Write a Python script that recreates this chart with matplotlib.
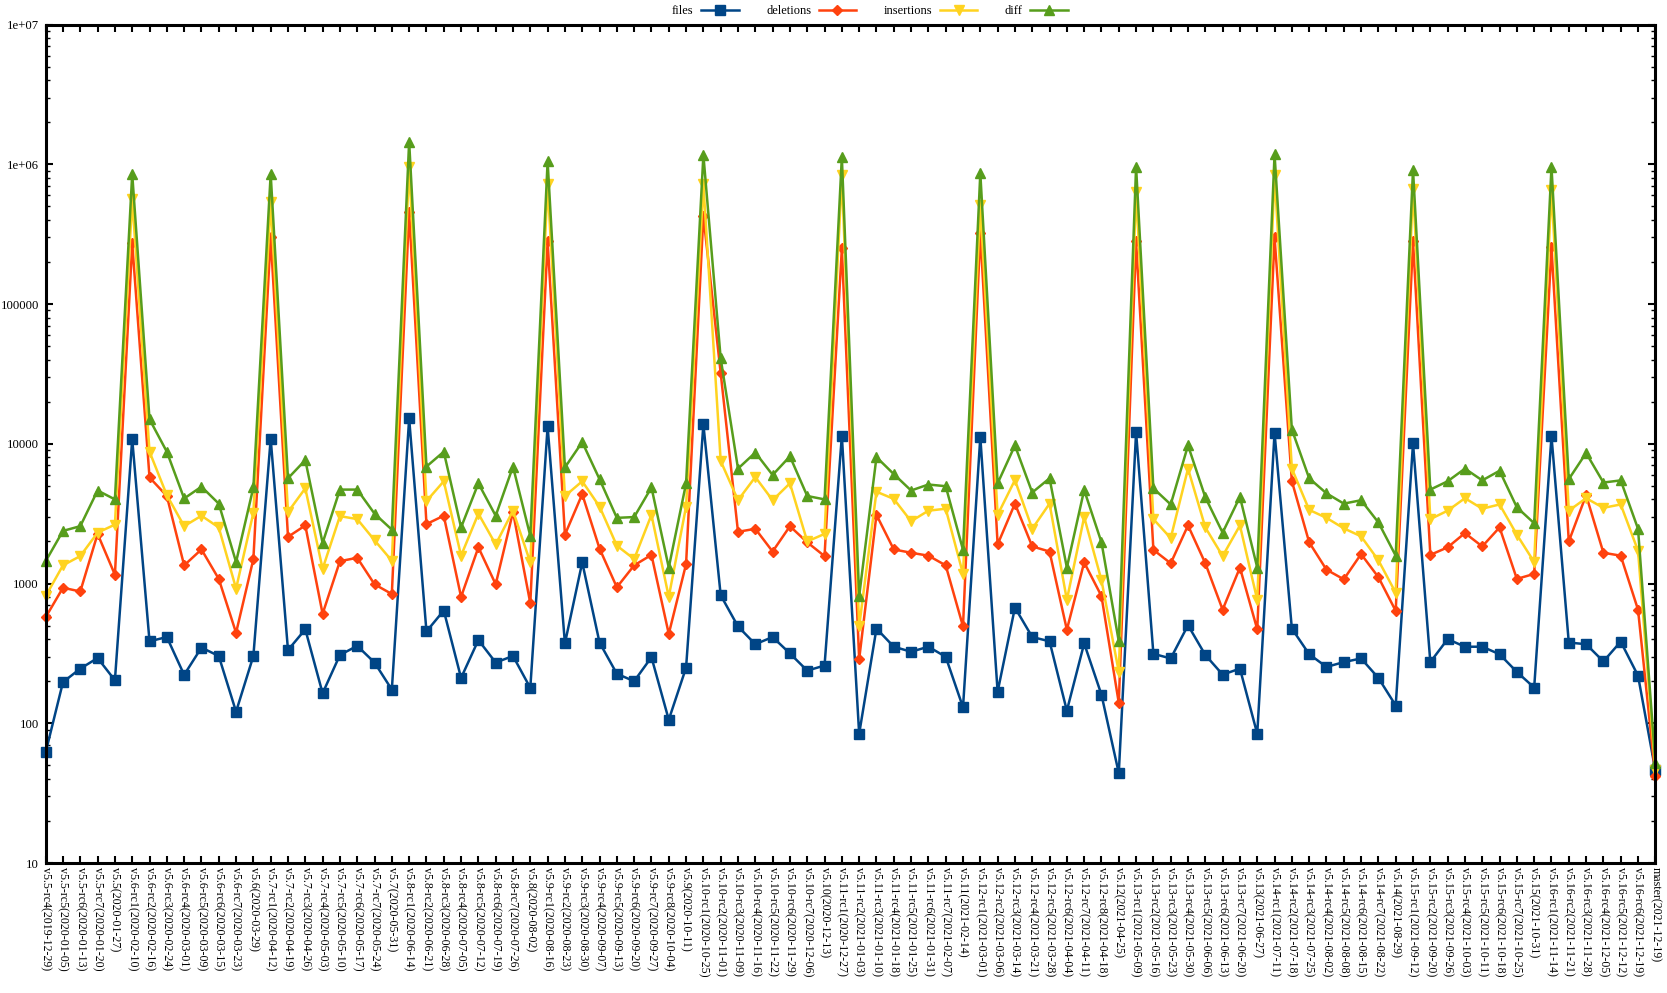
import matplotlib.pyplot as plt
import numpy as np
from matplotlib.ticker import FuncFormatter, LogLocator, NullFormatter

plt.rcParams['font.family'] = ['Liberation Serif', 'DejaVu Serif']

# kernel tags (x axis)
tags = [
    'v5.5-rc4(2019-12-29)', 'v5.5-rc5(2020-01-05)', 'v5.5-rc6(2020-01-13)', 'v5.5-rc7(2020-01-20)',
    'v5.5(2020-01-27)', 'v5.6-rc1(2020-02-10)', 'v5.6-rc2(2020-02-16)', 'v5.6-rc3(2020-02-24)',
    'v5.6-rc4(2020-03-01)', 'v5.6-rc5(2020-03-09)', 'v5.6-rc6(2020-03-15)', 'v5.6-rc7(2020-03-23)',
    'v5.6(2020-03-29)', 'v5.7-rc1(2020-04-12)', 'v5.7-rc2(2020-04-19)', 'v5.7-rc3(2020-04-26)',
    'v5.7-rc4(2020-05-03)', 'v5.7-rc5(2020-05-10)', 'v5.7-rc6(2020-05-17)', 'v5.7-rc7(2020-05-24)',
    'v5.7(2020-05-31)', 'v5.8-rc1(2020-06-14)', 'v5.8-rc2(2020-06-21)', 'v5.8-rc3(2020-06-28)',
    'v5.8-rc4(2020-07-05)', 'v5.8-rc5(2020-07-12)', 'v5.8-rc6(2020-07-19)', 'v5.8-rc7(2020-07-26)',
    'v5.8(2020-08-02)', 'v5.9-rc1(2020-08-16)', 'v5.9-rc2(2020-08-23)', 'v5.9-rc3(2020-08-30)',
    'v5.9-rc4(2020-09-07)', 'v5.9-rc5(2020-09-13)', 'v5.9-rc6(2020-09-20)', 'v5.9-rc7(2020-09-27)',
    'v5.9-rc8(2020-10-04)', 'v5.9(2020-10-11)', 'v5.10-rc1(2020-10-25)', 'v5.10-rc2(2020-11-01)',
    'v5.10-rc3(2020-11-09)', 'v5.10-rc4(2020-11-16)', 'v5.10-rc5(2020-11-22)', 'v5.10-rc6(2020-11-29)',
    'v5.10-rc7(2020-12-06)', 'v5.10(2020-12-13)', 'v5.11-rc1(2020-12-27)', 'v5.11-rc2(2021-01-03)',
    'v5.11-rc3(2021-01-10)', 'v5.11-rc4(2021-01-18)', 'v5.11-rc5(2021-01-25)', 'v5.11-rc6(2021-01-31)',
    'v5.11-rc7(2021-02-07)', 'v5.11(2021-02-14)', 'v5.12-rc1(2021-03-01)', 'v5.12-rc2(2021-03-06)',
    'v5.12-rc3(2021-03-14)', 'v5.12-rc4(2021-03-21)', 'v5.12-rc5(2021-03-28)', 'v5.12-rc6(2021-04-04)',
    'v5.12-rc7(2021-04-11)', 'v5.12-rc8(2021-04-18)', 'v5.12(2021-04-25)', 'v5.13-rc1(2021-05-09)',
    'v5.13-rc2(2021-05-16)', 'v5.13-rc3(2021-05-23)', 'v5.13-rc4(2021-05-30)', 'v5.13-rc5(2021-06-06)',
    'v5.13-rc6(2021-06-13)', 'v5.13-rc7(2021-06-20)', 'v5.13(2021-06-27)', 'v5.14-rc1(2021-07-11)',
    'v5.14-rc2(2021-07-18)', 'v5.14-rc3(2021-07-25)', 'v5.14-rc4(2021-08-02)', 'v5.14-rc5(2021-08-08)',
    'v5.14-rc6(2021-08-15)', 'v5.14-rc7(2021-08-22)', 'v5.14(2021-08-29)', 'v5.15-rc1(2021-09-12)',
    'v5.15-rc2(2021-09-20)', 'v5.15-rc3(2021-09-26)', 'v5.15-rc4(2021-10-03)', 'v5.15-rc5(2021-10-11)',
    'v5.15-rc6(2021-10-18)', 'v5.15-rc7(2021-10-25)', 'v5.15(2021-10-31)', 'v5.16-rc1(2021-11-14)',
    'v5.16-rc2(2021-11-21)', 'v5.16-rc3(2021-11-28)', 'v5.16-rc4(2021-12-05)', 'v5.16-rc5(2021-12-12)',
    'v5.16-rc6(2021-12-19)', 'master(2021-12-19)',
]

files = [62, 197, 246, 293, 203, 10800, 386, 414, 222, 348, 303, 121, 303, 10850, 334, 470,
         164, 308, 358, 272, 174, 15170, 454, 641, 211, 394, 272, 303, 179, 13300, 373, 1416,
         378, 226, 200, 297, 106, 250, 13770, 824, 493, 368, 414, 316, 238, 259, 11400, 84,
         476, 353, 325, 353, 299, 130, 11170, 168, 673, 414, 386, 123, 373, 160, 44, 12100,
         314, 291, 503, 308, 223, 246, 84, 11980, 476, 312, 253, 274, 291, 211, 134, 10070,
         274, 400, 353, 353, 312, 233, 180, 11320, 378, 368, 277, 384, 219, 46]

deletions = [574, 933, 877, 2265, 1156, 272000, 5740, 4230, 1348, 1754, 1079, 444, 1496, 301000, 2157, 2604,
             607, 1445, 1528, 987, 841, 457000, 2663, 3055, 802, 1815, 987, 3250, 722, 281000, 2235, 4360,
             1778, 940, 1349, 1603, 436, 1377, 427000, 32000, 2344, 2464, 1694, 2570, 1972, 1571, 250000, 287,
             3100, 1754, 1660, 1582, 1349, 493, 323000, 1905, 3730, 1842, 1694, 467, 1416, 813, 140, 281000,
             1742, 1395, 2604, 1395, 650, 1300, 470, 301000, 5400, 1972, 1256, 1072, 1625, 1110, 637, 281000,
             1603, 1815, 2297, 1842, 2520, 1079, 1172, 254000, 2000, 4290, 1660, 1582, 650, 42]

insertions = [813, 1350, 1572, 2312, 2640, 562000, 8770, 4290, 2573, 3055, 2520, 920, 3207, 536000, 3250, 4800,
              1273, 3035, 2890, 2040, 1455, 959000, 3890, 5390, 1582, 3160, 1905, 3320, 1416, 717000, 4230, 5390,
              3555, 1866, 1497, 3100, 802, 3555, 717000, 7530, 3945, 5780, 3945, 5210, 2000, 2265, 836000, 493,
              4540, 4030, 2790, 3320, 3430, 1172, 507000, 3100, 5500, 2464, 3730, 764, 2990, 1057, 233, 632000,
              2890, 2113, 6640, 2520, 1572, 2604, 764, 836000, 6640, 3365, 2950, 2483, 2175, 1466, 859, 668000,
              2890, 3320, 4080, 3430, 3680, 2235, 1425, 659000, 3320, 4080, 3480, 3680, 1718, 46]

diff = [1445, 2380, 2573, 4630, 4000, 853000, 14970, 8770, 4060, 4930, 3730, 1425, 4870, 853000, 5660, 7640,
        1950, 4700, 4700, 3160, 2430, 1455000, 6870, 8770, 2520, 5210, 3055, 6870, 2188, 1050000, 6770, 10280,
        5580, 2950, 2990, 4870, 1300, 5210, 1165000, 40800, 6640, 8650, 5980, 8130, 4230, 4000, 1125000, 813,
        8020, 6070, 4630, 5110, 4970, 1742, 865000, 5210, 9730, 4480, 5660, 1300, 4670, 1972, 386, 959000,
        4800, 3680, 9730, 4140, 2312, 4170, 1300, 1180000, 12650, 5660, 4420, 3730, 3945, 2735, 1582, 914000,
        4700, 5390, 6640, 5470, 6410, 3510, 2700, 959000, 5580, 8590, 5280, 5470, 2464, 52]

fig = plt.figure(figsize=(16.67, 9.93), dpi=100)
ax = fig.add_axes([0.0274, 0.1309, 0.9656, 0.8444])
x = np.arange(len(tags))

ax.plot(x, files, color='#004586', marker='s', ms=6.5, lw=1.8, label='files', clip_on=False)
ax.plot(x, deletions, color='#ff420e', marker='D', ms=5.5, lw=1.8, label='deletions', clip_on=False)
ax.plot(x, insertions, color='#ffd320', marker='v', ms=7, lw=1.8, label='insertions', clip_on=False)
ax.plot(x, diff, color='#579d1c', marker='^', ms=7, lw=1.8, label='diff', clip_on=False)

ax.set_yscale('log')
ax.set_ylim(10, 1e7)
ax.set_xlim(0, len(tags) - 1)


def ylab(v, pos):
    if v < 1e6:
        return '%d' % v
    return '1e+%02d' % int(round(np.log10(v)))


ax.yaxis.set_major_locator(LogLocator(base=10, numticks=10))
ax.yaxis.set_minor_locator(LogLocator(base=10, subs=np.arange(2, 10), numticks=20))
ax.yaxis.set_major_formatter(FuncFormatter(ylab))
ax.yaxis.set_minor_formatter(NullFormatter())

ax.set_xticks(x)
ax.set_xticklabels(tags, rotation=270, ha='center', va='top', fontsize=8.6)
ax.tick_params(axis='y', labelsize=9.2, pad=5)
ax.tick_params(axis='x', pad=3)
ax.tick_params(direction='in', top=True, right=True, which='major', length=5, width=1.5)
ax.tick_params(direction='in', right=True, which='minor', length=3, width=1)
for s in ax.spines.values():
    s.set_linewidth(2.2)

ax.legend(loc='center', bbox_to_anchor=(0.512, 1.016), ncol=4, frameon=False,
          markerfirst=False, fontsize=9, handlelength=3, columnspacing=2.2,
          borderaxespad=0, handletextpad=0.6, borderpad=0)

fig.savefig('out.png', dpi=100)
